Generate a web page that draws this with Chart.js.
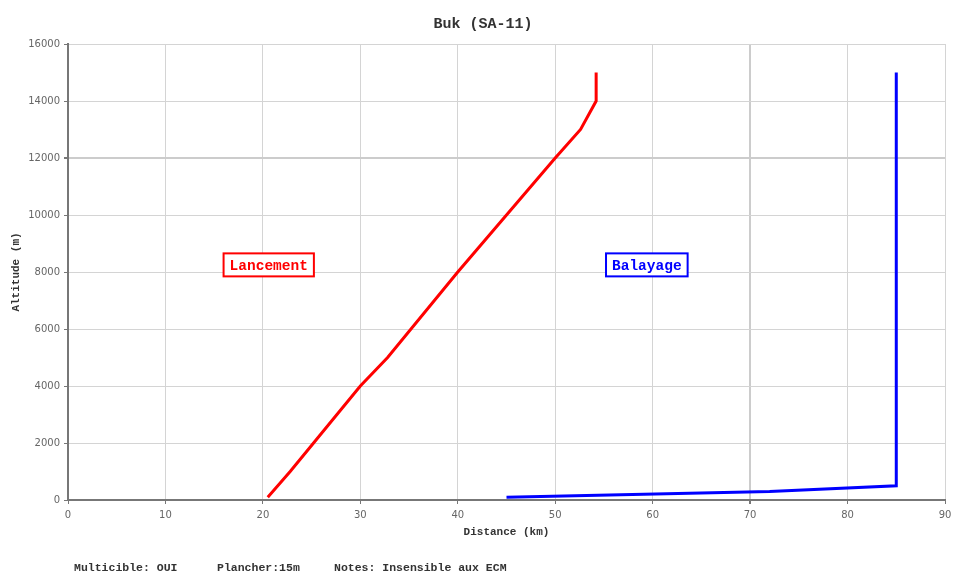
<!DOCTYPE html>
<html>
<head>
<meta charset="utf-8">
<script src="https://cdn.jsdelivr.net/npm/chart.js@4"></script>
<style>
  html, body { margin: 0; padding: 0; background: #fff; }
  #wrap { width: 966px; height: 582px; position: relative; }
</style>
</head>
<body>
<div id="wrap"><canvas id="myChart" width="966" height="582"></canvas></div>
<script>
(function () {
  "use strict";

  // Lancement (red) envelope: distance km / altitude m
  const lancementDist = [20.5, 22.8, 25.2, 27.6, 30, 32.8, 40, 50, 52.6, 54.2, 54.2];
  const lancementAlt = [100, 1000, 2000, 3000, 4000, 5000, 8000, 12000, 13000, 14000, 15000];

  // Balayage (blue) envelope
  const balayageDist = [45, 72, 85, 85];
  const balayageAlt = [100, 300, 500, 15000];

  const xTicks = [0, 10, 20, 30, 40, 50, 60, 70, 80, 90];
  const yTicks = [0, 2000, 4000, 6000, 8000, 10000, 12000, 14000, 16000];

  const chartTitle = "Buk (SA-11)";
  const xTitle = "Distance (km)";
  const yTitle = "Altitude (m)";
  const footerItems = ["Multicible: OUI", "Plancher:15m", "Notes: Insensible aux ECM"];

  // label boxes: [text, x km, y m, colour]
  const labelBoxes = [
    ["Lancement", 20.6, 8250, "#ff0000"],
    ["Balayage", 59.4, 8250, "#0000ff"]
  ];

  const toPoints = function (xs, ys) {
    return xs.map(function (x, i) { return { x: x, y: ys[i] }; });
  };

  const mono = "'Liberation Mono', 'Courier New', monospace";

  const textPlugin = {
    id: "textPlugin",
    afterDatasetsDraw: function (chart) {
      const ctx = chart.ctx;
      const xs = chart.scales.x;
      const ys = chart.scales.y;
      const area = chart.chartArea;
      ctx.save();

      // label boxes
      ctx.font = "bold 14.5px " + mono;
      ctx.textAlign = "center";
      ctx.textBaseline = "middle";
      labelBoxes.forEach(function (b) {
        const cx = xs.getPixelForValue(b[1]);
        const cy = ys.getPixelForValue(b[2]);
        const w = ctx.measureText(b[0]).width + 12;
        const h = 23;
        ctx.fillStyle = "#fff";
        ctx.fillRect(cx - w / 2, cy - h / 2, w, h);
        ctx.lineWidth = 2;
        ctx.strokeStyle = b[3];
        ctx.strokeRect(cx - w / 2, cy - h / 2, w, h);
        ctx.fillStyle = b[3];
        ctx.fillText(b[0], cx, cy + 1);
      });

      // title
      ctx.fillStyle = "#333";
      ctx.font = "bold 15px " + mono;
      ctx.fillText(chartTitle, chart.width / 2, 24);

      // axis titles
      ctx.font = "bold 11px " + mono;
      ctx.fillText(xTitle, (area.left + area.right) / 2, 532);
      ctx.save();
      ctx.translate(16, (area.top + area.bottom) / 2);
      ctx.rotate(-Math.PI / 2);
      ctx.fillText(yTitle, 0, 0);
      ctx.restore();

      // footer
      ctx.textAlign = "left";
      ctx.font = "bold 11.5px " + mono;
      const fx = [74, 217, 334];
      footerItems.forEach(function (t, i) {
        ctx.fillText(t, fx[i], 568);
      });
      ctx.restore();
    }
  };

  const gridColor = function (strong) {
    return function (c) {
      return c.tick && c.tick.value === strong ? "#cccccc" : "#d4d4d4";
    };
  };
  const gridWidth = function (strong) {
    return function (c) {
      return c.tick && c.tick.value === strong ? 2 : 1;
    };
  };

  const canvas = document.getElementById("myChart");
  new Chart(canvas.getContext("2d"), {
    type: "scatter",
    data: {
      datasets: [
        {
          label: "Lancement",
          data: toPoints(lancementDist, lancementAlt),
          showLine: true,
          borderColor: "#ff0000",
          borderWidth: 3,
          pointRadius: 0,
          tension: 0
        },
        {
          label: "Balayage",
          data: toPoints(balayageDist, balayageAlt),
          showLine: true,
          borderColor: "#0000ff",
          borderWidth: 3,
          pointRadius: 0,
          tension: 0
        }
      ]
    },
    options: {
      responsive: false,
      animation: false,
      devicePixelRatio: 1,
      layout: { padding: { top: 44, right: 21, left: 0, bottom: 0 } },
      plugins: {
        legend: { display: false },
        title: { display: false },
        tooltip: { enabled: false }
      },
      scales: {
        x: {
          type: "linear",
          min: 0,
          max: 90,
          afterFit: function (s) { s.height = 82; },
          afterBuildTicks: function (s) { s.ticks = xTicks.map(function (v) { return { value: v }; }); },
          grid: { color: gridColor(70), lineWidth: gridWidth(70), tickLength: 4, tickColor: "#777" },
          border: { color: "#777", width: 2 },
          ticks: { color: "#666", font: { family: "'DejaVu Sans', Verdana, sans-serif", size: 10 }, padding: 5, maxRotation: 0 }
        },
        y: {
          type: "linear",
          min: 0,
          max: 16000,
          afterFit: function (s) { s.width = 68; },
          afterBuildTicks: function (s) { s.ticks = yTicks.map(function (v) { return { value: v }; }); },
          grid: { color: gridColor(12000), lineWidth: gridWidth(12000), tickLength: 4, tickColor: "#777" },
          border: { color: "#777", width: 2 },
          ticks: {
            color: "#666",
            font: { family: "'DejaVu Sans', Verdana, sans-serif", size: 10 },
            padding: 4,
            callback: function (v) { return String(v); }
          }
        }
      }
    },
    plugins: [textPlugin]
  });
})();
</script>
</body>
</html>
